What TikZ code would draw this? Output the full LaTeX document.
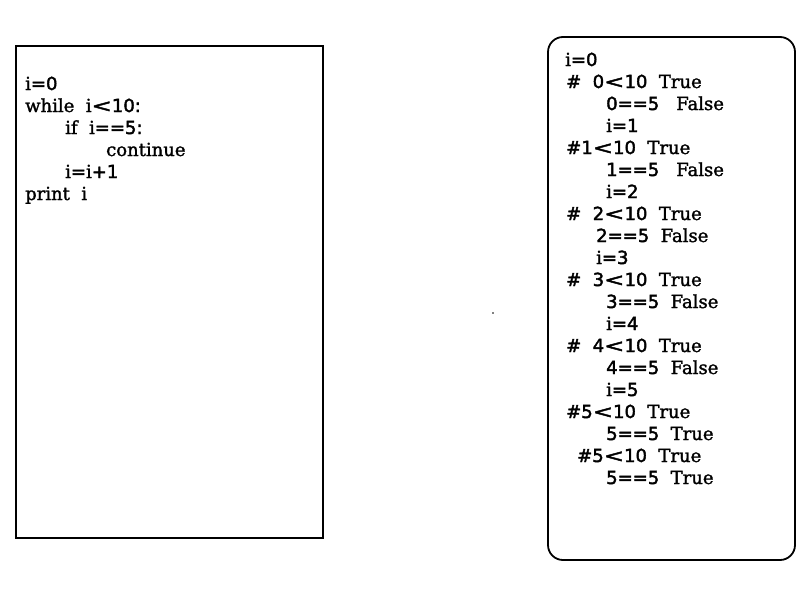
\documentclass[tikz,border=0pt]{standalone}
\usepackage{fontspec}
\setmainfont[FakeBold=1.6]{DejaVu Serif}
\newfontfamily\dg[FakeBold=2.2]{DejaVu Sans}
\newcommand\num[1]{{\dg #1}}
\newcommand\ltsym{\scalebox{1.35}[1]{\num{<}}}
\usetikzlibrary{positioning}

\begin{document}
\begin{tikzpicture}[
    x=1pt, y=-1pt,
    font=\fontsize{18}{22}\selectfont,
    % Boxes and text lines
    codebox/.style ={draw, line width=1.8pt},
    tracebox/.style={draw, line width=1.8pt, rounded corners=15pt},
    ln/.style      ={anchor=base west, inner sep=0pt}
]
\useasboundingbox (0,0) rectangle (800,600);

% Line pitch of both listings
\def\dy{22}

% --------------------------- Code -----------------------------------
\draw[codebox] (16,46) rectangle (323,538);
\node[ln] (c1) at (25, 90)         {i\num{=0}};
\node[ln] (c2) at (25, 90+\dy)     {while\ \ i\ltsym\num{10:}};
\node[ln] (c3) at (65, 90+2*\dy)   {if\ \ i\num{==5:}};
\node[ln] (c4) at (106,90+3*\dy)   {continue};
\node[ln] (c5) at (65, 90+4*\dy)   {i\num{=}i\num{+1}};
\node[ln] (c6) at (25, 90+5*\dy)   {print\ \ i};

% --------------------------- Trace ----------------------------------
\draw[tracebox] (548,37) rectangle (795,560);
\node[ln] (t1)  at (565,66)          {i\num{=0}};
\node[ln] (t2)  at (566,66+\dy)      {\num{\#}\ \ \num{0}\ltsym\num{10}\ \ True};
\node[ln] (t3)  at (606,66+2*\dy)    {\num{0==5}\hspace{17pt}False};
\node[ln] (t4)  at (606,66+3*\dy)    {i\num{=1}};
\node[ln] (t5)  at (566,66+4*\dy)    {\num{\#1}\ltsym\num{10}\ \ True};
\node[ln] (t6)  at (606,66+5*\dy)    {\num{1==5}\hspace{17pt}False};
\node[ln] (t7)  at (606,66+6*\dy)    {i\num{=2}};
\node[ln] (t8)  at (566,66+7*\dy)    {\num{\#}\ \ \num{2}\ltsym\num{10}\ \ True};
\node[ln] (t9)  at (596,66+8*\dy)    {\num{2==5}\ \ False};
\node[ln] (t10) at (596,66+9*\dy)    {i\num{=3}};
\node[ln] (t11) at (566,66+10*\dy)   {\num{\#}\ \ \num{3}\ltsym\num{10}\ \ True};
\node[ln] (t12) at (606,66+11*\dy)   {\num{3==5}\ \ False};
\node[ln] (t13) at (606,66+12*\dy)   {i\num{=4}};
\node[ln] (t14) at (566,66+13*\dy)   {\num{\#}\ \ \num{4}\ltsym\num{10}\ \ True};
\node[ln] (t15) at (606,66+14*\dy)   {\num{4==5}\ \ False};
\node[ln] (t16) at (606,66+15*\dy)   {i\num{=5}};
\node[ln] (t17) at (566,66+16*\dy)   {\num{\#5}\ltsym\num{10}\ \ True};
\node[ln] (t18) at (606,66+17*\dy)   {\num{5==5}\ \ True};
\node[ln] (t19) at (577,66+18*\dy)   {\num{\#5}\ltsym\num{10}\ \ True};
\node[ln] (t20) at (606,66+19*\dy)   {\num{5==5}\ \ True};

% Stray dot between the boxes
\fill (493,313) circle (0.9);

\end{tikzpicture}
\end{document}
